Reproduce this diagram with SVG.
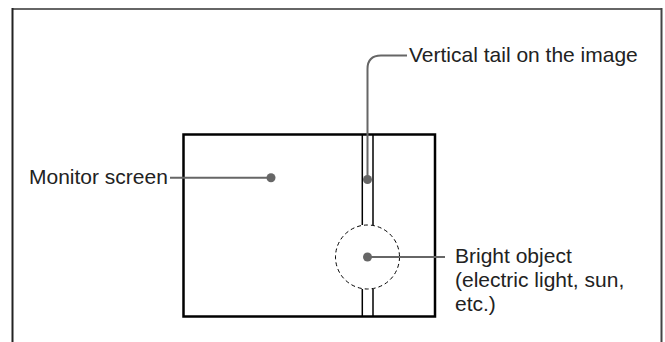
<svg xmlns="http://www.w3.org/2000/svg" width="665" height="342" viewBox="0 0 665 342">
<style>
.t{font-family:"Liberation Sans",Arial,sans-serif;font-size:21px;fill:#222}
.lead{fill:none;stroke:#666;stroke-width:2}
.dot{fill:#666}
</style>
<rect width="665" height="342" fill="#fff"/>
<g id="frame">
<line x1="12" y1="9" x2="662" y2="9" stroke="#666" stroke-width="2"/>
<line x1="12.5" y1="8" x2="12.5" y2="342" stroke="#222" stroke-width="2"/>
<line x1="661.5" y1="8" x2="661.5" y2="342" stroke="#444" stroke-width="2"/>
</g>
<g id="monitor">
<rect x="183.5" y="134.5" width="251.5" height="182" fill="none" stroke="#000" stroke-width="2.5"/>
</g>
<g id="tail">
<line x1="362.3" y1="134.5" x2="362.3" y2="225" stroke="#000" stroke-width="1.5"/>
<line x1="373" y1="134.5" x2="373" y2="225" stroke="#000" stroke-width="1.5"/>
<line x1="362.3" y1="289" x2="362.3" y2="316.5" stroke="#000" stroke-width="1.5"/>
<line x1="373" y1="289" x2="373" y2="316.5" stroke="#000" stroke-width="1.5"/>
</g>
<g id="bright">
<circle cx="367.5" cy="257" r="32" fill="none" stroke="#000" stroke-width="1" stroke-dasharray="4,3"/>
</g>
<g id="connectors">
<line class="lead" x1="170" y1="177.7" x2="271" y2="177.7"/>
<circle class="dot" cx="271" cy="177.7" r="4.5"/>
<path class="lead" d="M367.5,179.5 V69 Q367.5,55.5 381,55.5 H407"/>
<circle class="dot" cx="367.5" cy="179.5" r="4.5"/>
<line class="lead" x1="367.5" y1="257" x2="445" y2="257"/>
<circle class="dot" cx="367.5" cy="257" r="4.5"/>
</g>
<g id="labels">
<text class="t" x="29" y="183.5">Monitor screen</text>
<text class="t" x="409" y="62">Vertical tail on the image</text>
<text class="t" x="455" y="263">Bright object</text>
<text class="t" x="455" y="287">(electric light, sun,</text>
<text class="t" x="455" y="310.5">etc.)</text>
</g>
</svg>
